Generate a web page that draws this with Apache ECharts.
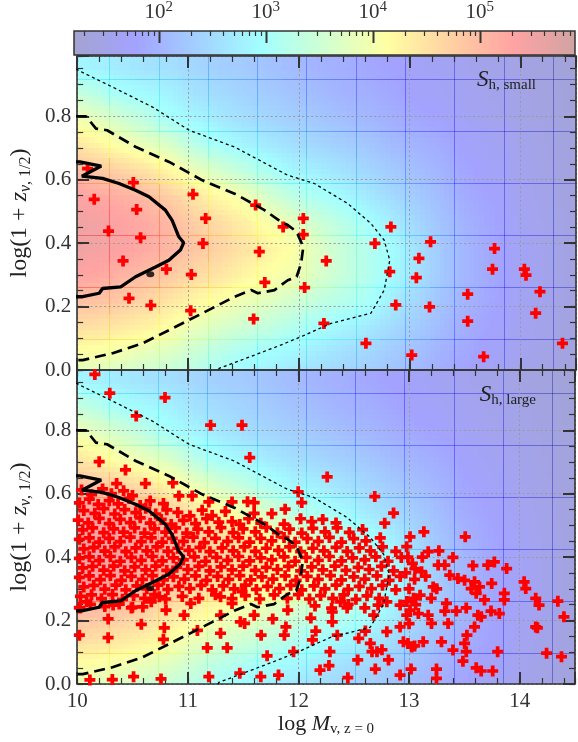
<!DOCTYPE html>
<html><head><meta charset="utf-8">
<script src="https://cdn.jsdelivr.net/npm/echarts@6/dist/echarts.min.js"></script>
<style>html,body{margin:0;padding:0;background:#fff}#c{width:578px;height:742px}</style>
</head><body><div id="c"></div>
<script>
// ---------------- DATA ----------------
// colour bar range (log10 of counts) and its ticks
const colorbarLogRange = [1.207, 5.889];
const colorbarMajorLog = [2, 3, 4, 5];
const colorbarMinorMult = [2, 3, 4, 5, 6, 7, 8, 9];

// background density map: bin edges and log10 values (rows bottom -> top)
const bgXEdges = [9.844,10.066,10.289,10.511,10.734,10.956,11.178,11.401,11.623,11.846,12.068,12.290,12.513,12.735,12.958,13.180,13.402,13.625,13.847,14.070,14.292,14.514];
const bgYEdges = [-0.070,0.012,0.094,0.176,0.258,0.340,0.422,0.504,0.586,0.668,0.750,0.832,0.914,0.996];
const bgLogDensity = [
 [3.70,3.62,3.52,3.42,3.30,3.15,2.98,2.84,2.72,2.60,2.50,2.40,2.30,2.20,2.05,1.90,1.78,1.68,1.58,1.48,1.38],
 [4.10,4.05,3.95,3.80,3.68,3.45,3.22,3.05,2.95,2.85,2.70,2.55,2.45,2.30,2.15,1.98,1.85,1.72,1.62,1.50,1.40],
 [4.55,4.50,4.40,4.28,4.10,3.85,3.65,3.50,3.35,3.15,3.00,2.85,2.70,2.50,2.30,2.10,1.92,1.78,1.66,1.54,1.42],
 [4.95,4.90,4.80,4.65,4.45,4.22,4.08,3.90,3.75,3.55,3.35,3.20,3.05,2.75,2.45,2.20,2.00,1.83,1.70,1.57,1.44],
 [5.30,5.25,5.10,4.97,4.80,4.60,4.45,4.25,4.10,3.95,3.65,3.40,3.18,2.92,2.58,2.27,2.03,1.86,1.72,1.58,1.45],
 [5.50,5.45,5.35,5.20,5.05,4.85,4.68,4.48,4.28,4.10,3.72,3.42,3.18,2.93,2.58,2.27,2.03,1.86,1.72,1.58,1.45],
 [5.52,5.45,5.33,5.20,5.02,4.75,4.55,4.35,4.05,3.80,3.50,3.25,3.00,2.75,2.45,2.20,1.98,1.83,1.70,1.57,1.44],
 [5.35,5.25,5.15,5.00,4.75,4.45,4.20,3.95,3.60,3.30,3.10,2.90,2.70,2.50,2.30,2.10,1.90,1.78,1.66,1.54,1.42],
 [5.00,4.85,4.70,4.50,4.22,3.90,3.60,3.35,3.10,2.85,2.75,2.60,2.45,2.30,2.15,2.00,1.82,1.72,1.62,1.50,1.40],
 [4.50,4.30,4.05,3.85,3.65,3.25,3.00,2.85,2.70,2.55,2.45,2.35,2.25,2.10,2.00,1.90,1.75,1.66,1.58,1.48,1.38],
 [4.00,3.80,3.55,3.30,3.02,2.85,2.70,2.55,2.45,2.35,2.25,2.15,2.05,1.95,1.85,1.78,1.68,1.60,1.53,1.45,1.36],
 [3.45,3.25,3.00,2.90,2.80,2.60,2.50,2.40,2.30,2.20,2.10,2.00,1.95,1.85,1.75,1.70,1.62,1.56,1.50,1.42,1.34],
 [2.85,2.80,2.70,2.60,2.55,2.45,2.35,2.30,2.20,2.10,2.00,1.95,1.85,1.78,1.70,1.65,1.58,1.52,1.47,1.40,1.32]
];

// density contours
const contourSolid = [[9.99,0.656],[10.025,0.656],[10.217,0.643],[10.043,0.611],[10.229,0.604],[10.378,0.588],[10.527,0.567],[10.648,0.546],[10.796,0.504],[10.857,0.472],[10.917,0.420],[10.961,0.401],[10.931,0.378],[10.827,0.346],[10.707,0.325],[10.527,0.294],[10.393,0.262],[10.229,0.257],[10.199,0.242],[10.049,0.231],[9.99,0.231]];
const contourBlob = [[10.66,0.302]];
const contourDashed = [[9.99,0.80],[10.08,0.80],[10.17,0.761],[10.27,0.756],[10.53,0.703],[10.83,0.656],[11.13,0.598],[11.42,0.556],[11.69,0.504],[11.84,0.467],[11.90,0.457],[11.98,0.436],[12.04,0.388],[12.02,0.336],[11.98,0.294],[11.90,0.283],[11.78,0.252],[11.63,0.242],[11.57,0.252],[11.42,0.231],[11.13,0.179],[10.83,0.126],[10.59,0.084],[10.32,0.053],[10.05,0.031],[9.99,0.031]];
const contourDotted = [[9.99,0.95],[10.02,0.943],[10.32,0.892],[10.68,0.829],[11.01,0.756],[11.42,0.703],[11.84,0.625],[11.90,0.614],[12.14,0.588],[12.44,0.525],[12.65,0.462],[12.77,0.409],[12.82,0.346],[12.77,0.252],[12.65,0.179],[12.29,0.147],[12.02,0.105],[11.84,0.079],[11.60,0.047],[11.28,0.005],[11.26,-0.01]];

// haloes, S_h,small
const smallSample = [[10.094,0.635],[10.154,0.538],[10.507,0.591],[10.537,0.506],[10.283,0.438],[10.572,0.417],[10.414,0.344],[10.805,0.318],[10.468,0.226],[10.665,0.204],[11.045,0.554],[11.159,0.478],[11.135,0.399],[11.030,0.301],[11.024,0.187],[11.61,0.520],[11.858,0.451],[11.643,0.373],[11.693,0.276],[11.592,0.161],[12.04,0.478],[12.04,0.427],[12.247,0.344],[12.052,0.260],[12.226,0.147],[12.83,0.451],[12.686,0.399],[12.82,0.310],[12.874,0.205],[12.605,0.084],[13.018,0.047],[13.188,0.404],[13.083,0.352],[13.06,0.291],[13.179,0.199],[13.523,0.239],[13.523,0.154],[13.667,0.042],[13.765,0.383],[13.747,0.318],[14.034,0.318],[14.049,0.299],[14.175,0.247],[14.136,0.179],[14.378,0.084]];

// haloes, S_h,large
const largeSample = [
 // outliers / upper part
 [10.16,0.976],[10.295,0.917],[10.794,0.903],[10.534,0.845],[11.206,0.816],[11.49,0.816],[10.199,0.701],[10.437,0.675],[10.357,0.632],[10.617,0.632],[10.865,0.634],[11.56,0.714],[12.26,0.653],[11.998,0.606],[12.03,0.572],[11.60,0.572],[12.69,0.591],[12.86,0.539],[12.78,0.507],[11.6,0.538],[11.76,0.537],[12.02,0.521],[12.34,0.508],
 // dense core
 [10.04,0.612],[10.13,0.597],[10.23,0.615],[10.31,0.600],[10.42,0.609],[10.50,0.594],
 [10.02,0.571],[10.11,0.583],[10.19,0.566],[10.29,0.578],[10.37,0.568],[10.47,0.585],[10.57,0.563],[10.66,0.577],[10.78,0.569],[10.92,0.593],[11.04,0.593],[11.19,0.574],[11.40,0.574],[11.54,0.575],
 [10.06,0.547],[10.16,0.538],[10.24,0.553],[10.34,0.536],[10.43,0.550],[10.53,0.540],[10.62,0.554],[10.71,0.536],[10.81,0.549],[10.91,0.541],[11.02,0.530],[11.13,0.548],[11.22,0.531],[11.34,0.544],[11.88,0.551],
 [10.01,0.517],[10.10,0.508],[10.20,0.522],[10.29,0.506],[10.39,0.519],[10.48,0.509],[10.57,0.524],[10.66,0.507],[10.76,0.519],[10.85,0.503],[10.96,0.516],[11.07,0.506],[11.17,0.521],[11.28,0.510],[11.40,0.512],[11.47,0.503],[11.55,0.521],[11.66,0.507],[11.87,0.504],[12.12,0.512],[12.22,0.519],
 [10.05,0.486],[10.14,0.492],[10.24,0.477],[10.33,0.489],[10.42,0.479],[10.52,0.492],[10.61,0.476],[10.70,0.489],[10.80,0.479],[10.89,0.492],[10.99,0.476],[11.09,0.488],[11.19,0.480],[11.30,0.493],[11.41,0.477],[11.50,0.489],[11.61,0.480],[11.71,0.494],[11.81,0.477],[11.92,0.488],[12.03,0.476],[12.13,0.491],[12.24,0.480],[12.35,0.492],[12.46,0.478],[12.58,0.487],
 [10.02,0.456],[10.11,0.461],[10.20,0.447],[10.29,0.459],[10.39,0.449],[10.48,0.463],[10.58,0.449],[10.67,0.461],[10.77,0.447],[10.86,0.459],[10.96,0.450],[11.05,0.463],[11.15,0.446],[11.25,0.459],[11.36,0.450],[11.46,0.461],[11.56,0.447],[11.66,0.459],[11.76,0.451],[11.87,0.462],[11.97,0.447],[12.08,0.458],[12.18,0.450],[12.28,0.462],[12.39,0.447],[12.50,0.458],[12.61,0.451],[12.74,0.461],
 [10.06,0.426],[10.15,0.431],[10.25,0.419],[10.34,0.432],[10.44,0.417],[10.53,0.429],[10.63,0.420],[10.72,0.432],[10.82,0.418],[10.91,0.428],[11.01,0.421],[11.11,0.431],[11.20,0.417],[11.31,0.429],[11.41,0.420],[11.51,0.432],[11.61,0.418],[11.71,0.428],[11.82,0.421],[11.92,0.432],[12.02,0.417],[12.13,0.428],[12.23,0.420],[12.34,0.431],[12.44,0.418],[12.55,0.429],[12.65,0.420],[12.76,0.432],[12.88,0.418],
 [10.02,0.396],[10.11,0.401],[10.20,0.389],[10.30,0.402],[10.39,0.387],[10.49,0.399],[10.58,0.390],[10.68,0.402],[10.77,0.388],[10.87,0.398],[10.96,0.391],[11.06,0.401],[11.16,0.387],[11.26,0.399],[11.36,0.390],[11.46,0.402],[11.56,0.388],[11.66,0.398],[11.76,0.391],[11.87,0.401],[11.97,0.387],[12.07,0.399],[12.18,0.390],[12.28,0.402],[12.39,0.388],[12.49,0.398],[12.60,0.391],[12.70,0.401],[12.81,0.387],[12.93,0.399],
 [10.05,0.366],[10.14,0.371],[10.24,0.359],[10.33,0.372],[10.43,0.357],[10.52,0.369],[10.62,0.360],[10.71,0.372],[10.81,0.358],[10.90,0.368],[11.00,0.361],[11.10,0.371],[11.20,0.357],[11.30,0.369],[11.40,0.360],[11.50,0.372],[11.61,0.358],[11.71,0.368],[11.81,0.361],[11.91,0.371],[12.02,0.357],[12.12,0.369],[12.22,0.360],[12.33,0.372],[12.43,0.358],[12.54,0.368],[12.64,0.361],[12.75,0.371],[12.86,0.357],
 [10.02,0.336],[10.11,0.341],[10.21,0.329],[10.30,0.342],[10.40,0.327],[10.49,0.339],[10.59,0.330],[10.68,0.342],[10.78,0.328],[10.87,0.338],[10.97,0.331],[11.07,0.341],[11.17,0.327],[11.27,0.339],[11.37,0.330],[11.47,0.342],[11.57,0.328],[11.67,0.338],[11.77,0.331],[11.88,0.341],[11.98,0.327],[12.08,0.339],[12.18,0.330],[12.29,0.342],[12.39,0.328],[12.50,0.338],[12.60,0.331],[12.71,0.341],[12.82,0.327],[12.92,0.339],
 [10.06,0.306],[10.15,0.311],[10.25,0.299],[10.35,0.312],[10.44,0.297],[10.54,0.309],[10.63,0.300],[10.73,0.312],[10.82,0.298],[10.92,0.308],[11.02,0.301],[11.12,0.311],[11.22,0.297],[11.32,0.309],[11.42,0.300],[11.52,0.312],[11.62,0.298],[11.72,0.308],[11.83,0.301],[11.93,0.311],[12.03,0.297],[12.14,0.309],[12.24,0.300],[12.34,0.312],[12.45,0.298],[12.55,0.308],[12.66,0.301],[12.76,0.311],[12.88,0.297],
 [10.03,0.276],[10.13,0.281],[10.22,0.269],[10.32,0.282],[10.41,0.267],[10.51,0.279],[10.61,0.270],[10.70,0.282],[10.80,0.268],[10.95,0.276],[11.10,0.270],[11.25,0.281],[11.40,0.269],[11.52,0.279],[11.65,0.268],[11.78,0.281],[11.90,0.270],[12.00,0.282],[12.10,0.268],[12.20,0.279],[12.31,0.270],[12.41,0.281],[12.52,0.267],[12.62,0.278],[12.73,0.270],
 [10.02,0.241],[10.12,0.251],[10.25,0.244],[10.38,0.252],[10.50,0.242],[12.15,0.246],[12.30,0.239],[12.45,0.251],[12.60,0.240],[12.72,0.249],
 // lower left
 [10.02,0.154],[10.115,0.013],[10.318,0.014],[10.51,0.023],[10.758,0.016],[11.19,0.023],[10.28,0.146],[10.28,0.205],[10.58,0.188],[10.788,0.177],[10.78,0.141],[11.087,0.169],[11.296,0.160],[11.356,0.114],[11.176,0.114],[11.47,0.034],[11.475,0.196],[11.296,0.217],[10.967,0.217],[10.803,0.233],[10.594,0.243],[10.49,0.240],[10.325,0.249],[10.67,0.259],[10.085,0.259],[10.025,0.240],[10.743,0.275],[11.027,0.254],[11.296,0.275],[11.4,0.254],[11.49,0.291],
 // lower middle
 [11.66,0.023],[11.82,0.028],[12.195,0.044],[12.276,0.058],[12.447,0.020],[12.695,0.047],[12.536,0.076],[12.814,0.076],[12.919,0.028],[11.717,0.089],[11.956,0.102],[12.285,0.102],[12.665,0.102],[12.755,0.108],[11.663,0.154],[11.887,0.180],[11.873,0.154],[12.157,0.167],[12.127,0.139],[12.351,0.154],[12.545,0.144],[12.65,0.128],[12.71,0.102],[12.605,0.167],[12.799,0.165],[12.919,0.180],[12.949,0.133],[11.514,0.191],[11.6,0.217],[11.768,0.205],[11.903,0.233],[12.112,0.208],[12.306,0.196],[12.44,0.240],[12.306,0.227],[12.381,0.259],[12.68,0.217],[12.799,0.259],[12.919,0.249],[12.979,0.217],
 // right part
 [12.99,0.40],[13.03,0.38],[12.97,0.35],[13.05,0.33],[13.00,0.30],[13.10,0.28],[12.98,0.26],[13.06,0.25],[13.12,0.40],[13.15,0.34],[13.20,0.27],[13.25,0.30],[13.27,0.42],[13.04,0.27],[13.00,0.19],[12.99,0.128],[13.05,0.12],
 [13.134,0.480],[13.508,0.464],[13.009,0.464],[12.979,0.433],[13.173,0.417],[13.397,0.399],[13.263,0.375],[13.323,0.375],[13.577,0.373],[13.711,0.375],[13.771,0.385],[13.882,0.364],[13.054,0.364],[13.113,0.354],[13.368,0.343],[13.442,0.333],[13.502,0.327],[13.592,0.322],[13.747,0.317],[14.04,0.322],[14.055,0.301],[13.218,0.306],[13.562,0.301],[13.637,0.306],[13.607,0.286],[13.861,0.286],[13.861,0.265],[14.145,0.270],[14.175,0.249],[14.345,0.261],[13.682,0.265],[13.338,0.254],[13.517,0.240],[13.741,0.230],[13.816,0.222],[14.40,0.212],[13.323,0.230],[13.427,0.230],[13.622,0.217],[13.652,0.212],[13.084,0.222],[13.173,0.217],[13.009,0.233],[13.353,0.191],[13.203,0.191],[13.592,0.180],[14.145,0.180],[14.16,0.177],[13.523,0.154],[13.502,0.128],[13.128,0.133],[13.293,0.133],[13.024,0.117],[13.517,0.102],[13.397,0.107],[13.801,0.102],[14.243,0.097],[14.378,0.086],[13.487,0.072],[13.607,0.051],[13.652,0.041],[13.756,0.041],[13.018,0.047],[13.248,0.047],[13.248,0.018]
];

// ---------------- STYLE / HELPERS ----------------
const FONT = "'Liberation Serif','DejaVu Serif',serif";
const AX = '#333';
const ALPHA = 0.36;
const SUB = 5; // shading subdivisions per map cell (smooth shading of the image)
function jet(t){
  t = Math.max(0, Math.min(1, t));
  const cl = x => Math.max(0, Math.min(1, x));
  return [cl(Math.min(4*t-1.5, -4*t+4.5)), cl(Math.min(4*t-0.5, -4*t+3.5)), cl(Math.min(4*t+0.5, -4*t+2.5))].map(c => Math.round(c*255));
}
function cmapT(t, a){ const c = jet(t); return 'rgba('+c[0]+','+c[1]+','+c[2]+','+a+')'; }
function cmap(v, a){ return cmapT((v - colorbarLogRange[0])/(colorbarLogRange[1]-colorbarLogRange[0]), a); }
const isMult = (v, s) => Math.abs(v/s - Math.round(v/s)) < 1e-6;

// shading value at fractional cell-centre index (u, w), like gouraud shading of the map
const NR = bgLogDensity.length, NC = bgLogDensity[0].length;
function shade(u, w){
  u = Math.max(0, Math.min(NC - 1, u)); w = Math.max(0, Math.min(NR - 1, w));
  const c0 = Math.min(NC - 2, Math.floor(u)), r0 = Math.min(NR - 2, Math.floor(w));
  const fu = u - c0, fw = w - r0;
  const a = bgLogDensity[r0][c0], b = bgLogDensity[r0][c0+1], c = bgLogDensity[r0+1][c0], d = bgLogDensity[r0+1][c0+1];
  return (a*(1-fu) + b*fu)*(1-fw) + (c*(1-fu) + d*fu)*fw;
}

const bgCells = [];
for (let r = 0; r < NR; r++)
  for (let c = 0; c < NC; c++)
    bgCells.push([bgXEdges[c], bgXEdges[c+1], bgYEdges[r], bgYEdges[r+1], bgLogDensity[r][c], c, r]);

const cbTicks = colorbarMajorLog.map(v => [v, 1]);
for (let n = 1; n <= 5; n++) colorbarMinorMult.forEach(k => {
  const v = n + Math.log10(k);
  if (v > colorbarLogRange[0] && v < colorbarLogRange[1]) cbTicks.push([v, 0]);
});

function richSet(big, small){
  return {
    r: {fontFamily: FONT, fontSize: big, color: '#222', lineHeight: big + 4, fontWeight: 'normal'},
    i: {fontFamily: FONT, fontSize: big, color: '#222', lineHeight: big + 4, fontStyle: 'italic', fontWeight: 'normal'},
    si: {fontFamily: FONT, fontSize: small, color: '#222', lineHeight: 10, fontStyle: 'italic', verticalAlign: 'bottom', fontWeight: 'normal'},
    s: {fontFamily: FONT, fontSize: small, color: '#222', lineHeight: 10, verticalAlign: 'bottom', fontWeight: 'normal'}
  };
}
const richX = richSet(22, 15), richY = richSet(24, 16), richT = richSet(23, 15);

function renderBg(params, api){
  const cs = params.coordSys;
  const c = api.value(5), r = api.value(6);
  const p0 = api.coord([api.value(0), api.value(2)]);
  const p1 = api.coord([api.value(1), api.value(3)]);
  const children = [];
  for (let i = 0; i < SUB; i++) {
    const xa = Math.round(p0[0] + (p1[0]-p0[0])*i/SUB), xb = Math.round(p0[0] + (p1[0]-p0[0])*(i+1)/SUB);
    const L = Math.max(xa, cs.x), R = Math.min(xb, cs.x + cs.width);
    if (R <= L) continue;
    for (let j = 0; j < SUB; j++) {
      const ya = Math.round(p0[1] + (p1[1]-p0[1])*j/SUB), yb = Math.round(p0[1] + (p1[1]-p0[1])*(j+1)/SUB);
      const T = Math.max(yb, cs.y), B = Math.min(ya, cs.y + cs.height);
      if (B <= T) continue;
      const v = shade(c + (i+0.5)/SUB - 0.5, r + (j+0.5)/SUB - 0.5);
      children.push({type: 'rect', shape: {x: L, y: T, width: R - L, height: B - T}, style: {fill: cmap(v, ALPHA)}});
    }
  }
  const col = cmap(api.value(4), ALPHA);
  const xl = Math.round(p0[0]);
  const T0 = Math.max(Math.round(p1[1]), cs.y), B0 = Math.min(Math.round(p0[1]), cs.y + cs.height);
  const L0 = Math.max(Math.round(p0[0]), cs.x), R0 = Math.min(Math.round(p1[0]), cs.x + cs.width);
  if (c % 2 === 0 && xl > cs.x && xl < cs.x + cs.width && B0 > T0)
    children.push({type: 'line', shape: {x1: xl + 0.5, y1: T0, x2: xl + 0.5, y2: B0}, style: {stroke: col, lineWidth: 1}});
  const yb0 = Math.round(p0[1]);
  if (r % 2 === 0 && yb0 > cs.y && yb0 < cs.y + cs.height && R0 > L0)
    children.push({type: 'line', shape: {x1: L0, y1: yb0 - 0.5, x2: R0, y2: yb0 - 0.5}, style: {stroke: col, lineWidth: 1}});
  return {type: 'group', children: children};
}

function tickStyle(major){ return {show: true, inside: true, length: major ? 12 : 6, lineStyle: {color: AX, width: major ? 2 : 1.2}}; }

function panelAxes(g, showXLabels){
  const bx = {gridIndex: g, type: 'value', min: 10, max: 14.5, z: 1};
  const by = {gridIndex: g, type: 'value', min: 0, max: 0.99, z: 1};
  const frame = {show: true, onZero: false, lineStyle: {color: AX, width: 1.6}};
  const noLine = {show: false, onZero: false};
  const grid = {show: true, lineStyle: {color: '#9a9a9a', type: [2, 2.5], width: 1}};
  const xs = [
    Object.assign({}, bx, {position: 'bottom', interval: 1, axisLine: frame, axisTick: tickStyle(true), splitLine: grid,
      axisLabel: {show: showXLabels, margin: 7, fontFamily: FONT, fontSize: 21, color: '#333', formatter: v => isMult(v, 1) ? String(Math.round(v)) : ''},
      name: showXLabels ? '{r|log }{i|M}{s|v, z = 0}' : '', nameLocation: 'middle', nameGap: 27, nameTextStyle: {rich: richX}}),
    Object.assign({}, bx, {position: 'bottom', interval: 0.2, axisLine: noLine, axisTick: tickStyle(false), axisLabel: {show: false}, splitLine: {show: false}}),
    Object.assign({}, bx, {position: 'top', interval: 1, axisLine: frame, axisTick: tickStyle(true), axisLabel: {show: false}, splitLine: {show: false}}),
    Object.assign({}, bx, {position: 'top', interval: 0.2, axisLine: noLine, axisTick: tickStyle(false), axisLabel: {show: false}, splitLine: {show: false}})
  ];
  const ys = [
    Object.assign({}, by, {position: 'left', interval: 0.2, axisLine: frame, axisTick: tickStyle(true), splitLine: grid,
      axisLabel: {show: true, margin: 6, fontFamily: FONT, fontSize: 21, color: '#333', formatter: v => isMult(v, 0.2) ? v.toFixed(1) : ''},
      name: '{r|log(1 + }{i|z}{si|v}{s|, 1/2}{r|)}', nameLocation: 'middle', nameRotate: 90, nameGap: 40, nameTextStyle: {rich: richY}}),
    Object.assign({}, by, {position: 'left', interval: 0.05, axisLine: noLine, axisTick: tickStyle(false), axisLabel: {show: false}, splitLine: {show: false}}),
    Object.assign({}, by, {position: 'right', interval: 0.2, axisLine: frame, axisTick: tickStyle(true), axisLabel: {show: false}, splitLine: {show: false}}),
    Object.assign({}, by, {position: 'right', interval: 0.05, axisLine: noLine, axisTick: tickStyle(false), axisLabel: {show: false}, splitLine: {show: false}})
  ];
  return {xs, ys};
}

const P1 = panelAxes(1, false), P2 = panelAxes(2, true);
const PLUS = 'path://M3.3,0H6.7V3.3H10V6.7H6.7V10H3.3V6.7H0V3.3H3.3Z';

function panelSeries(ax, pts){
  const common = {xAxisIndex: ax, yAxisIndex: ax, silent: true, animation: false};
  return [
    Object.assign({type: 'custom', z: 0, renderItem: renderBg, data: bgCells, encode: {x: [0, 1], y: [2, 3]}}, common),
    Object.assign({type: 'scatter', z: 3, symbol: PLUS, symbolSize: 11, itemStyle: {color: '#ff0000', opacity: 1}, data: pts}, common),
    Object.assign({type: 'line', z: 4, data: contourDotted, showSymbol: false, symbol: 'none', lineStyle: {color: '#000', width: 1.3, type: [3, 3]}}, common),
    Object.assign({type: 'line', z: 4, data: contourDashed, showSymbol: false, symbol: 'none', lineStyle: {color: '#000', width: 2.7, type: [11, 6]}}, common),
    Object.assign({type: 'line', z: 4, data: contourSolid, showSymbol: false, symbol: 'none', lineStyle: {color: '#000', width: 3.3}}, common),
    Object.assign({type: 'scatter', z: 4, symbol: 'circle', symbolSize: [8, 6], itemStyle: {color: '#000'}, data: contourBlob}, common)
  ];
}

const chart = echarts.init(document.getElementById('c'), null, {renderer: 'canvas'});
chart.setOption({
  animation: false,
  backgroundColor: '#fff',
  title: [
    {text: '{i|S}{s|h, small}', right: 42, top: 66, padding: 0, textStyle: {fontWeight: 'normal', rich: richT}},
    {text: '{i|S}{s|h, large}', right: 42, top: 381, padding: 0, textStyle: {fontWeight: 'normal', rich: richT}}
  ],
  grid: [
    {left: 74, top: 31, width: 502, height: 24},
    {left: 74, top: 56, width: 502, height: 314},
    {left: 74, top: 370, width: 502, height: 314}
  ],
  xAxis: [
    {gridIndex: 0, type: 'value', min: colorbarLogRange[0], max: colorbarLogRange[1], position: 'top', minInterval: 1, maxInterval: 1,
     axisLine: {show: false}, axisTick: {show: false}, splitLine: {show: false},
     axisLabel: {margin: 7, formatter: v => isMult(v, 1) ? '{b|10}{p|' + Math.round(v) + '}' : '',
       rich: {b: {fontFamily: FONT, fontSize: 21, color: '#333', lineHeight: 24}, p: {fontFamily: FONT, fontSize: 15, color: '#333', lineHeight: 12, verticalAlign: 'top'}}}}
  ].concat(P1.xs, P2.xs),
  yAxis: [
    {gridIndex: 0, type: 'value', min: 0, max: 1, show: false}
  ].concat(P1.ys, P2.ys),
  series: [
    {type: 'custom', xAxisIndex: 0, yAxisIndex: 0, silent: true, z: 1, data: [[colorbarLogRange[0], colorbarLogRange[1]]],
     renderItem: function(params, api){
       const p0 = api.coord([api.value(0), 0]), p1 = api.coord([api.value(1), 1]);
       const stops = [];
       for (let i = 0; i <= 40; i++) stops.push({offset: i/40, color: cmapT(i/40, ALPHA)});
       return {type: 'rect', shape: {x: p0[0], y: p1[1], width: p1[0]-p0[0], height: p0[1]-p1[1]},
         style: {fill: new echarts.graphic.LinearGradient(0, 0, 1, 0, stops), stroke: AX, lineWidth: 1.5}};
     }},
    {type: 'custom', xAxisIndex: 0, yAxisIndex: 0, silent: true, z: 2, data: cbTicks,
     renderItem: function(params, api){
       const p = api.coord([api.value(0), 1]);
       const major = api.value(1) === 1;
       const x = Math.round(p[0]) + 0.5;
       return {type: 'line', shape: {x1: x, y1: p[1], x2: x, y2: p[1] + (major ? 12 : 5)}, style: {stroke: AX, lineWidth: major ? 2 : 1.2}};
     }}
  ].concat(panelSeries(1, smallSample), panelSeries(5, largeSample))
});
</script></body></html>
